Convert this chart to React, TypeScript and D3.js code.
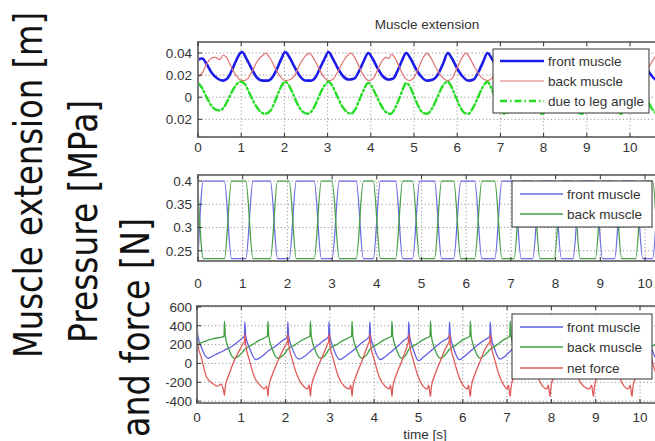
import React, { useLayoutEffect, useRef, useState } from 'react';
import * as d3 from 'd3';

type Pt = [number, number];

// ---------- tick definitions ----------
const xTickValues = [0, 1, 2, 3, 4, 5, 6, 7, 8, 9, 10];
const p1YTicks = [-0.02, 0, 0.02, 0.04];
const p1YLabels = ['-0.02', '0', '0.02', '0.04'];
const p2YTicks = [0.25, 0.3, 0.35, 0.4];
const p2YLabels = ['0.25', '0.3', '0.35', '0.4'];
const p3YTicks = [-400, -200, 0, 200, 400, 600];
const p3YLabels = ['-400', '-200', '0', '200', '400', '600'];

// ---------- panel 1: muscle extension [m] ----------
const extFront: Pt[] = [
  [0, 0.034], [0.1, 0.035], [0.2, 0.03], [0.32, 0.022], [0.45, 0.017], [0.58, 0.015], [0.68, 0.017], [0.78, 0.024], [0.88, 0.033], [0.98, 0.04],
  [1.02, 0.041], [1.12, 0.035], [1.24, 0.026], [1.36, 0.018], [1.5, 0.015], [1.62, 0.015], [1.72, 0.018], [1.82, 0.025], [1.92, 0.034], [2.02, 0.041],
  [2.12, 0.036], [2.24, 0.027], [2.36, 0.019], [2.5, 0.015], [2.62, 0.015], [2.72, 0.018], [2.82, 0.026], [2.92, 0.034], [3.02, 0.041], [3.12, 0.035],
  [3.24, 0.026], [3.36, 0.019], [3.48, 0.016], [3.62, 0.017], [3.72, 0.023], [3.84, 0.033], [3.94, 0.04], [4.04, 0.035], [4.16, 0.026], [4.28, 0.019],
  [4.4, 0.016], [4.52, 0.017], [4.62, 0.024], [4.72, 0.033], [4.82, 0.04], [4.92, 0.035], [5.04, 0.026], [5.16, 0.019], [5.3, 0.015], [5.44, 0.016],
  [5.56, 0.021], [5.68, 0.031], [5.78, 0.04], [5.88, 0.035], [6.0, 0.026], [6.12, 0.019], [6.26, 0.015], [6.38, 0.016], [6.48, 0.022], [6.6, 0.032],
  [6.7, 0.04], [6.8, 0.035], [6.92, 0.026], [7.04, 0.019], [7.16, 0.016], [7.26, 0.02], [7.38, 0.031], [7.5, 0.04], [7.6, 0.035], [7.72, 0.026],
  [7.84, 0.019], [7.98, 0.015], [8.1, 0.017], [8.2, 0.023], [8.3, 0.033], [8.4, 0.04], [8.5, 0.035], [8.62, 0.026], [8.74, 0.019], [8.88, 0.015],
  [9.0, 0.016], [9.1, 0.021], [9.22, 0.032], [9.32, 0.04], [9.42, 0.035], [9.54, 0.026], [9.66, 0.019], [9.8, 0.015], [9.9, 0.017], [9.98, 0.022],
  [10.08, 0.032], [10.17, 0.04], [10.27, 0.035], [10.39, 0.026], [10.51, 0.019], [10.65, 0.015], [10.8, 0.016],
];
const extBack: Pt[] = [
  [0, 0.018], [0.1, 0.022], [0.2, 0.03], [0.3, 0.035], [0.4, 0.036], [0.5, 0.034], [0.58, 0.038], [0.66, 0.036], [0.76, 0.028], [0.86, 0.021],
  [0.96, 0.016], [1.06, 0.015], [1.16, 0.017], [1.26, 0.024], [1.38, 0.033], [1.5, 0.038], [1.57, 0.04], [1.66, 0.036], [1.78, 0.027], [1.9, 0.019],
  [2.02, 0.015], [2.14, 0.016], [2.24, 0.02], [2.36, 0.03], [2.48, 0.037], [2.58, 0.04], [2.68, 0.035], [2.8, 0.026], [2.92, 0.018], [3.02, 0.015],
  [3.12, 0.016], [3.22, 0.022], [3.34, 0.031], [3.44, 0.037], [3.54, 0.04], [3.64, 0.035], [3.76, 0.025], [3.86, 0.018], [3.96, 0.015], [4.06, 0.017],
  [4.16, 0.025], [4.28, 0.034], [4.36, 0.036], [4.42, 0.035], [4.48, 0.039], [4.58, 0.034], [4.7, 0.024], [4.8, 0.017], [4.9, 0.015], [5.0, 0.018],
  [5.1, 0.026], [5.2, 0.035], [5.3, 0.04], [5.4, 0.035], [5.52, 0.026], [5.66, 0.018], [5.78, 0.015], [5.88, 0.017], [5.98, 0.025], [6.1, 0.035],
  [6.2, 0.04], [6.3, 0.035], [6.42, 0.026], [6.56, 0.018], [6.7, 0.015], [6.8, 0.017], [6.88, 0.024], [6.98, 0.034], [7.07, 0.04], [7.17, 0.035],
  [7.29, 0.026], [7.41, 0.018], [7.5, 0.015], [7.6, 0.017], [7.7, 0.023], [7.8, 0.031], [7.9, 0.038], [7.97, 0.04], [8.07, 0.035], [8.19, 0.026],
  [8.31, 0.018], [8.4, 0.015], [8.5, 0.017], [8.6, 0.023], [8.72, 0.032], [8.82, 0.038], [8.9, 0.04], [9.0, 0.035], [9.12, 0.026], [9.24, 0.018],
  [9.32, 0.015], [9.42, 0.017], [9.52, 0.024], [9.62, 0.032], [9.72, 0.038], [9.8, 0.04], [9.9, 0.035], [10.02, 0.026], [10.12, 0.018], [10.2, 0.015],
  [10.3, 0.018], [10.42, 0.026], [10.54, 0.034], [10.64, 0.039], [10.8, 0.036],
];
const extLeg: Pt[] = [
  [0, 0.013], [0.1, 0.008], [0.2, 0.0], [0.3, -0.007], [0.4, -0.011], [0.5, -0.012], [0.6, -0.009], [0.7, -0.002], [0.8, 0.006], [0.9, 0.012],
  [1.0, 0.014], [1.1, 0.011], [1.2, 0.003], [1.3, -0.005], [1.42, -0.012], [1.55, -0.015], [1.68, -0.012], [1.78, -0.004], [1.88, 0.006], [1.96, 0.012],
  [2.02, 0.014], [2.1, 0.011], [2.2, 0.003], [2.3, -0.006], [2.42, -0.013], [2.54, -0.015], [2.66, -0.011], [2.76, -0.003], [2.86, 0.006], [2.96, 0.012],
  [3.02, 0.014], [3.1, 0.011], [3.2, 0.003], [3.32, -0.007], [3.44, -0.013], [3.54, -0.015], [3.64, -0.011], [3.74, -0.002], [3.84, 0.007], [3.94, 0.013],
  [4.02, 0.01], [4.12, 0.002], [4.22, -0.006], [4.34, -0.013], [4.46, -0.015], [4.56, -0.01], [4.66, -0.001], [4.76, 0.009], [4.82, 0.013], [4.9, 0.01],
  [5.0, 0.001], [5.1, -0.008], [5.2, -0.014], [5.3, -0.015], [5.42, -0.01], [5.52, -0.002], [5.62, 0.007], [5.72, 0.013], [5.78, 0.014], [5.86, 0.01],
  [5.96, 0.001], [6.06, -0.008], [6.16, -0.014], [6.26, -0.015], [6.36, -0.01], [6.46, -0.002], [6.56, 0.007], [6.66, 0.013], [6.7, 0.014], [6.78, 0.009],
  [6.9, -0.002], [7.0, -0.01], [7.1, -0.015], [7.2, -0.012], [7.3, -0.004], [7.4, 0.007], [7.5, 0.014], [7.6, 0.009], [7.72, -0.002], [7.84, -0.011],
  [7.96, -0.015], [8.08, -0.011], [8.2, -0.002], [8.3, 0.008], [8.4, 0.014], [8.5, 0.009], [8.62, -0.002], [8.76, -0.012], [8.88, -0.015], [9.0, -0.011],
  [9.12, -0.002], [9.22, 0.008], [9.32, 0.014], [9.42, 0.009], [9.54, -0.002], [9.66, -0.011], [9.78, -0.015], [9.9, -0.011], [10.0, -0.002], [10.1, 0.008],
  [10.17, 0.014], [10.27, 0.009], [10.4, -0.002], [10.52, -0.011], [10.64, -0.015], [10.8, -0.01],
];

// ---------- panel 2: pressure [MPa] ----------
const presFront: Pt[] = [
  [0, 0.235], [0.12, 0.4], [0.59, 0.4], [0.75, 0.233], [1.07, 0.233], [1.23, 0.4], [1.62, 0.4], [1.78, 0.233], [2.04, 0.233], [2.2, 0.4],
  [2.6, 0.4], [2.76, 0.233], [3.0, 0.233], [3.16, 0.4], [3.54, 0.4], [3.7, 0.233], [3.92, 0.233], [4.08, 0.4], [4.42, 0.4], [4.58, 0.233],
  [4.8, 0.233], [4.96, 0.4], [5.29, 0.4], [5.45, 0.233], [5.72, 0.233], [5.88, 0.4], [6.19, 0.4], [6.35, 0.233], [6.64, 0.233], [6.8, 0.4],
  [7.07, 0.4], [7.23, 0.233], [7.49, 0.233], [7.65, 0.4], [7.97, 0.4], [8.13, 0.233], [8.39, 0.233], [8.55, 0.4], [8.89, 0.4], [9.05, 0.233],
  [9.32, 0.233], [9.48, 0.4], [9.79, 0.4], [9.95, 0.233], [10.17, 0.233], [10.33, 0.4], [10.8, 0.4],
];
const presBack: Pt[] = [
  [0, 0.38], [0.12, 0.233], [0.59, 0.233], [0.75, 0.4], [1.07, 0.4], [1.23, 0.233], [1.62, 0.233], [1.78, 0.4], [2.04, 0.4], [2.2, 0.233],
  [2.6, 0.233], [2.76, 0.4], [3.0, 0.4], [3.16, 0.233], [3.54, 0.233], [3.7, 0.4], [3.92, 0.4], [4.08, 0.233], [4.42, 0.233], [4.58, 0.4],
  [4.8, 0.4], [4.96, 0.233], [5.29, 0.233], [5.45, 0.4], [5.72, 0.4], [5.88, 0.233], [6.19, 0.233], [6.35, 0.4], [6.64, 0.4], [6.8, 0.233],
  [7.07, 0.233], [7.23, 0.4], [7.49, 0.4], [7.65, 0.233], [7.97, 0.233], [8.13, 0.4], [8.39, 0.4], [8.55, 0.233], [8.89, 0.233], [9.05, 0.4],
  [9.32, 0.4], [9.48, 0.233], [9.79, 0.233], [9.95, 0.4], [10.17, 0.4], [10.33, 0.233], [10.8, 0.233],
];

// ---------- panel 3: force [N] ----------
const forceFront: Pt[] = [
  [0, 400], [0.02, 290], [0.1, 170], [0.25, 55], [0.4, 90], [0.62, 140], [0.8, 185], [0.95, 240], [1.05, 280],
  [1.07, 290], [1.08, 440], [1.1, 290], [1.18, 170], [1.33, 40], [1.48, 80], [1.6, 130], [1.78, 185], [1.92, 240], [2.02, 275],
  [2.04, 290], [2.05, 440], [2.07, 290], [2.15, 160], [2.3, 45], [2.44, 80], [2.56, 130], [2.72, 190], [2.85, 240], [2.95, 275],
  [2.97, 290], [2.98, 440], [3.0, 290], [3.08, 160], [3.22, 40], [3.36, 80], [3.5, 130], [3.65, 190], [3.78, 240], [3.87, 275],
  [3.89, 290], [3.9, 440], [3.92, 290], [4.0, 160], [4.14, 40], [4.28, 85], [4.4, 130], [4.55, 190], [4.66, 240], [4.75, 275],
  [4.77, 290], [4.78, 440], [4.8, 290], [4.88, 150], [5.0, 30], [5.14, 80], [5.27, 130], [5.42, 190], [5.56, 240], [5.67, 275],
  [5.69, 290], [5.7, 440], [5.72, 290], [5.8, 150], [5.92, 40], [6.05, 80], [6.17, 130], [6.32, 190], [6.46, 240], [6.58, 275],
  [6.61, 290], [6.62, 440], [6.64, 290], [6.72, 150], [6.84, 45], [6.96, 80], [7.07, 130], [7.2, 190], [7.34, 240], [7.45, 275],
  [7.47, 290], [7.48, 440], [7.5, 290], [7.58, 150], [7.7, 40], [7.84, 80], [7.97, 130], [8.1, 190], [8.24, 240], [8.35, 275],
  [8.37, 290], [8.38, 440], [8.4, 290], [8.48, 150], [8.6, 40], [8.74, 80], [8.95, 140], [9.08, 190], [9.2, 240], [9.29, 275],
  [9.31, 290], [9.32, 440], [9.34, 290], [9.42, 150], [9.54, 40], [9.68, 80], [9.82, 130], [9.95, 190], [10.06, 240], [10.14, 275],
  [10.16, 290], [10.17, 440], [10.19, 290], [10.27, 150], [10.39, 40], [10.52, 80], [10.66, 130], [10.8, 180],
];
const forceBack: Pt[] = [
  [0, 200], [0.15, 230], [0.35, 260], [0.5, 275], [0.6, 285],
  [0.61, 290], [0.62, 450], [0.64, 290], [0.72, 150], [0.84, 55], [0.97, 90], [1.08, 150], [1.25, 200], [1.42, 250], [1.56, 280],
  [1.59, 290], [1.6, 450], [1.62, 290], [1.7, 150], [1.82, 55], [1.95, 90], [2.05, 150], [2.22, 200], [2.38, 250], [2.52, 280],
  [2.55, 290], [2.56, 450], [2.58, 290], [2.66, 150], [2.78, 55], [2.9, 90], [2.98, 150], [3.15, 200], [3.32, 250], [3.46, 280],
  [3.49, 290], [3.5, 450], [3.52, 290], [3.6, 150], [3.72, 55], [3.83, 90], [3.9, 150], [4.06, 200], [4.22, 250], [4.36, 280],
  [4.39, 290], [4.4, 450], [4.42, 290], [4.5, 150], [4.62, 55], [4.72, 90], [4.78, 150], [4.94, 200], [5.1, 250], [5.23, 280],
  [5.26, 290], [5.27, 450], [5.29, 290], [5.37, 150], [5.49, 55], [5.6, 90], [5.7, 150], [5.86, 200], [6.0, 250], [6.13, 280],
  [6.16, 290], [6.17, 450], [6.19, 290], [6.27, 150], [6.39, 55], [6.5, 90], [6.62, 150], [6.78, 200], [6.92, 250], [7.03, 280],
  [7.06, 290], [7.07, 450], [7.09, 290], [7.17, 150], [7.29, 55], [7.4, 90], [7.48, 150], [7.64, 200], [7.8, 250], [7.93, 280],
  [7.96, 290], [7.97, 450], [7.99, 290], [8.07, 150], [8.19, 55], [8.3, 90], [8.38, 150], [8.56, 200], [8.74, 250], [8.9, 280],
  [8.94, 290], [8.95, 450], [8.97, 290], [9.05, 150], [9.17, 55], [9.26, 90], [9.32, 150], [9.48, 200], [9.63, 250], [9.78, 280],
  [9.81, 290], [9.82, 450], [9.84, 290], [9.92, 150], [10.04, 55], [10.12, 90], [10.17, 150], [10.34, 200], [10.5, 250], [10.66, 280], [10.8, 290],
];
const forceNet: Pt[] = [
  [0, 300], [0.02, 200], [0.1, 60], [0.22, -150], [0.35, -210], [0.47, -240], [0.55, -220], [0.6, -290], [0.62, -340], [0.64, -240], [0.72, -120], [0.84, 30], [0.97, 150], [1.04, 210],
  [1.07, 230], [1.08, 310], [1.1, 200], [1.18, 40], [1.3, -150], [1.42, -230], [1.52, -270], [1.57, -240], [1.59, -300], [1.6, -350], [1.62, -250], [1.7, -120], [1.82, 20], [1.95, 150], [2.02, 210],
  [2.04, 230], [2.05, 310], [2.07, 200], [2.15, 40], [2.28, -150], [2.4, -240], [2.5, -270], [2.53, -230], [2.55, -300], [2.56, -350], [2.58, -250], [2.66, -120], [2.78, 20], [2.9, 150], [2.95, 210],
  [2.97, 230], [2.98, 310], [3.0, 200], [3.08, 40], [3.2, -150], [3.32, -240], [3.44, -270], [3.47, -230], [3.49, -300], [3.5, -350], [3.52, -250], [3.6, -120], [3.72, 20], [3.82, 150], [3.87, 210],
  [3.89, 230], [3.9, 310], [3.92, 200], [4.0, 40], [4.12, -150], [4.24, -240], [4.34, -270], [4.37, -230], [4.39, -300], [4.4, -350], [4.42, -250], [4.5, -120], [4.62, 20], [4.72, 150], [4.76, 210],
  [4.77, 230], [4.78, 310], [4.8, 200], [4.88, 40], [5.0, -150], [5.1, -240], [5.2, -270], [5.23, -230], [5.25, -300], [5.27, -350], [5.29, -250], [5.37, -120], [5.49, 20], [5.6, 150], [5.67, 210],
  [5.69, 230], [5.7, 310], [5.72, 200], [5.8, 40], [5.92, -150], [6.02, -240], [6.1, -270], [6.13, -230], [6.15, -300], [6.17, -350], [6.19, -250], [6.27, -120], [6.39, 20], [6.5, 150], [6.58, 210],
  [6.61, 230], [6.62, 310], [6.64, 200], [6.72, 40], [6.84, -150], [6.94, -240], [7.0, -270], [7.03, -230], [7.05, -300], [7.07, -350], [7.09, -250], [7.17, -120], [7.29, 20], [7.38, 150], [7.45, 210],
  [7.47, 230], [7.48, 310], [7.5, 200], [7.58, 40], [7.7, -150], [7.8, -240], [7.9, -270], [7.93, -230], [7.95, -300], [7.97, -350], [7.99, -250], [8.07, -120], [8.19, 20], [8.3, 150], [8.35, 210],
  [8.37, 230], [8.38, 310], [8.4, 200], [8.48, 40], [8.6, -150], [8.72, -240], [8.86, -270], [8.91, -230], [8.93, -300], [8.95, -350], [8.97, -250], [9.05, -120], [9.17, 20], [9.26, 150], [9.3, 210],
  [9.31, 230], [9.32, 310], [9.34, 200], [9.42, 40], [9.54, -150], [9.64, -240], [9.74, -270], [9.78, -230], [9.8, -300], [9.82, -350], [9.84, -250], [9.92, -120], [10.04, 20], [10.12, 150], [10.15, 210],
  [10.16, 230], [10.17, 310], [10.19, 200], [10.27, 40], [10.39, -150], [10.5, -240], [10.62, -270], [10.8, -250],
];

const legendP1 = ['front muscle', 'back muscle', 'due to leg angle'];
const legendP2 = ['front muscle', 'back muscle'];
const legendP3 = ['front muscle', 'back muscle', 'net force'];
const sideLabels = ['Muscle extension [m]', 'Pressure [MPa]', 'and force [N]'];

const FONT = '"Liberation Sans", Arial, sans-serif';

type Series = { data: Pt[]; color: string; width: number; dash?: string; name: string };
type PanelCfg = {
  id: string;
  top: number; bottom: number; left: number; right: number; x10: number;
  yDomain: [number, number];
  yTicks: number[]; yLabels: string[];
  xLabelY: number;
  series: Series[];
  legend: { x: number; y: number; w: number; h: number; rows: number[]; lx1: number; lx2: number; tx: number };
};

// Vertical text (reads bottom to top) squeezed to a target length along its run.
function FitVText({ x, y, len, text }: { x: number; y: number; len: number; text: string }) {
  const ref = useRef<SVGTextElement>(null);
  const [k, setK] = useState(0.8);
  useLayoutEffect(() => {
    if (ref.current) {
      const w = ref.current.getBBox().width;
      if (w > 0) setK(len / w);
    }
  }, [len, text]);
  return (
    <g transform={`translate(${x},${y}) rotate(-90) scale(${k},1)`}>
      <text ref={ref} x={0} y={0} fontFamily='"DejaVu Sans", Verdana, sans-serif' fontSize={39} fill="#111">{text}</text>
    </g>
  );
}

function Panel({ cfg }: { cfg: PanelCfg }) {
  const x = d3.scaleLinear().domain([0, 10]).range([cfg.left, cfg.x10]);
  const y = d3.scaleLinear().domain(cfg.yDomain).range([cfg.bottom, cfg.top]);
  const line = d3.line<Pt>().x(d => x(d[0])).y(d => y(d[1])).curve(d3.curveMonotoneX);
  const clipId = 'clip-' + cfg.id;
  const gridColor = '#8c8c8c';
  return (
    <g>
      <defs>
        <clipPath id={clipId}>
          <rect x={cfg.left} y={cfg.top} width={cfg.right - cfg.left} height={cfg.bottom - cfg.top} />
        </clipPath>
      </defs>
      <rect x={cfg.left} y={cfg.top} width={cfg.right - cfg.left} height={cfg.bottom - cfg.top} fill="#fff" />
      {xTickValues.filter(v => v > 0).map(v => (
        <line key={'gx' + v} x1={x(v)} x2={x(v)} y1={cfg.top} y2={cfg.bottom} stroke={gridColor} strokeWidth={0.9} strokeDasharray="1.2,2.4" />
      ))}
      {cfg.yTicks.map(v => (
        <line key={'gy' + v} x1={cfg.left} x2={cfg.right} y1={y(v)} y2={y(v)} stroke={gridColor} strokeWidth={0.9} strokeDasharray="1.2,2.4" />
      ))}
      <g clipPath={`url(#${clipId})`}>
        {cfg.series.map(s => (
          <path key={s.name} d={line(s.data) || ''} fill="none" stroke={s.color} strokeWidth={s.width}
            strokeDasharray={s.dash} strokeLinejoin="round" strokeLinecap="round" />
        ))}
      </g>
      <rect x={cfg.left} y={cfg.top} width={cfg.right - cfg.left} height={cfg.bottom - cfg.top} fill="none" stroke="#7a7a7a" strokeWidth={2} />
      {xTickValues.map(v => (
        <g key={'tx' + v}>
          <line x1={x(v)} x2={x(v)} y1={cfg.bottom} y2={cfg.bottom - 4} stroke="#333" strokeWidth={1} />
          <line x1={x(v)} x2={x(v)} y1={cfg.top} y2={cfg.top + 4} stroke="#333" strokeWidth={1} />
          <text x={x(v)} y={cfg.xLabelY} textAnchor="middle" fontFamily={FONT} fontSize={13.5} fill="#333">{v}</text>
        </g>
      ))}
      {cfg.yTicks.map((v, i) => (
        <g key={'ty' + v}>
          <line x1={cfg.left} x2={cfg.left + 4} y1={y(v)} y2={y(v)} stroke="#333" strokeWidth={1} />
          <text x={192} y={y(v) + 4.8} textAnchor="end" fontFamily={FONT} fontSize={13.5} fill="#333">{cfg.yLabels[i]}</text>
        </g>
      ))}
      <rect x={cfg.legend.x} y={cfg.legend.y} width={cfg.legend.w} height={cfg.legend.h} fill="#fff" stroke="#333" strokeWidth={1} />
      {cfg.series.map((s, i) => (
        <g key={'lg' + s.name}>
          <line x1={cfg.legend.lx1} x2={cfg.legend.lx2} y1={cfg.legend.rows[i]} y2={cfg.legend.rows[i]} stroke={s.color}
            strokeWidth={s.width} strokeDasharray={s.dash} />
          <text x={cfg.legend.tx} y={cfg.legend.rows[i] + 4.8} fontFamily={FONT} fontSize={13.5} fill="#333">{s.name}</text>
        </g>
      ))}
    </g>
  );
}

export default function App() {
  const panels: PanelCfg[] = [
    {
      id: 'p1', top: 42, bottom: 137, left: 198, right: 658, x10: 630,
      yDomain: [-0.036, 0.05], yTicks: p1YTicks, yLabels: p1YLabels, xLabelY: 152,
      series: [
        { data: extFront, color: '#1c1ce8', width: 2.6, name: legendP1[0] },
        { data: extBack, color: '#e07272', width: 1.2, name: legendP1[1] },
        { data: extLeg, color: '#27dc27', width: 2.4, dash: '7,3,1.5,3', name: legendP1[2] },
      ],
      legend: { x: 493, y: 49, w: 156, h: 64, rows: [61, 81, 101], lx1: 500, lx2: 544, tx: 548 },
    },
    {
      id: 'p2', top: 175, bottom: 261, left: 198, right: 658, x10: 645,
      yDomain: [0.228, 0.413], yTicks: p2YTicks, yLabels: p2YLabels, xLabelY: 288,
      series: [
        { data: presFront, color: '#6c6ce6', width: 1.3, name: legendP2[0] },
        { data: presBack, color: '#4a9f4a', width: 1.3, name: legendP2[1] },
      ],
      legend: { x: 512, y: 181, w: 140, h: 46, rows: [194, 214], lx1: 520, lx2: 563, tx: 567 },
    },
    {
      id: 'p3', top: 306, bottom: 403, left: 197, right: 658, x10: 640,
      yDomain: [-420, 610], yTicks: p3YTicks, yLabels: p3YLabels, xLabelY: 422,
      series: [
        { data: forceFront, color: '#6060e2', width: 1.3, name: legendP3[0] },
        { data: forceBack, color: '#40a040', width: 1.3, name: legendP3[1] },
        { data: forceNet, color: '#e05a5a', width: 1.3, name: legendP3[2] },
      ],
      legend: { x: 512, y: 314, w: 140, h: 65, rows: [327, 347, 368], lx1: 520, lx2: 563, tx: 567 },
    },
  ];

  return (
    <svg width={655} height={441} viewBox="0 0 655 441"
      style={{ position: 'absolute', left: 0, top: 0, display: 'block', background: '#fff' }}>
      <defs>
        <clipPath id="chartArea">
          <rect x={166} y={0} width={489} height={441} />
        </clipPath>
      </defs>
      <rect x={0} y={0} width={655} height={441} fill="#fff" />
      <FitVText x={42} y={358} len={346} text={sideLabels[0]} />
      <FitVText x={97} y={343} len={243} text={sideLabels[1]} />
      <FitVText x={149} y={437} len={219} text={sideLabels[2]} />
      <g clipPath="url(#chartArea)">
        <text x={427} y={29} textAnchor="middle" fontFamily={FONT} fontSize={13.5} fill="#333">Muscle extension</text>
        {panels.map(p => <Panel key={p.id} cfg={p} />)}
        <text x={425} y={439} textAnchor="middle" fontFamily={FONT} fontSize={13.5} fill="#333">time [s]</text>
      </g>
    </svg>
  );
}
